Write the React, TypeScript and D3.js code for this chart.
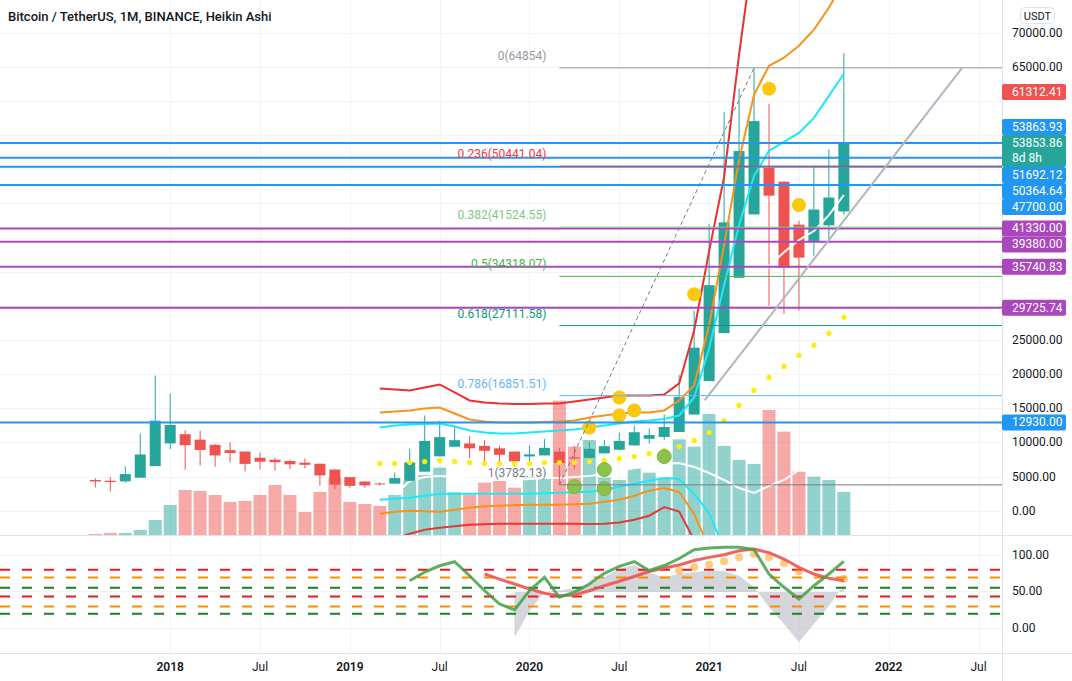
import React from "react";
import * as d3 from "d3";

// ---------------- DATA ----------------
// monthly Heikin Ashi candles, Aug 2017 .. Oct 2021 (index 0 = Aug 2017)
const firstMonth = new Date(2017, 7, 1);
const months = d3.timeMonth.range(firstMonth, new Date(2021, 10, 1));

const haOpen = [4493, 4388, 4297, 4830, 6531, 9857, 11205, 10402, 9646, 8868, 8657, 7755, 7463, 7279, 7034, 6878, 6024, 4913, 4276, 3990, 3961, 4367, 5717, 7961, 9367, 9848, 9490, 9133, 8657, 7944, 8097, 8651, 7813, 7737, 8400, 8925, 9564, 10528, 10802, 11531, 14084, 18978, 26001, 34110, 43389, 50222, 48180, 41894, 39476, 41788, 43824];
const haHigh = [4745, 4939, 6498, 11300, 19799, 17176, 11786, 11710, 9760, 10020, 8657, 8492, 7750, 7410, 7680, 6878, 6024, 4913, 4276, 4140, 5600, 9074, 13970, 13147, 12325, 10940, 10370, 9530, 8657, 9578, 10500, 9188, 9460, 10067, 10380, 11444, 12468, 12051, 14100, 19863, 29300, 41950, 58353, 61844, 64854, 59600, 48180, 42448, 50500, 52920, 66999];
const haLow = [3400, 2817, 4110, 4830, 6531, 9035, 6000, 6600, 6430, 7033, 5750, 6070, 5880, 6111, 6205, 3653, 3156, 3350, 3373, 3671, 3961, 4367, 5717, 7961, 9320, 7710, 7300, 6515, 6435, 6871, 8097, 3782, 6150, 7737, 8400, 8893, 9564, 9825, 10374, 11531, 14084, 18978, 26001, 34110, 43389, 30000, 28805, 29278, 37333, 39600, 43283];
const haClose = [4283, 4206, 5362, 8232, 13183, 12553, 9599, 8890, 8089, 8446, 6853, 7171, 7094, 6790, 6721, 5170, 3803, 3639, 3705, 3932, 4773, 7067, 10206, 10773, 10329, 9132, 8775, 8182, 7230, 8249, 9205, 6976, 7661, 9063, 9450, 10203, 11493, 11075, 12260, 16636, 23873, 33024, 42219, 52667, 57054, 46138, 35608, 37058, 44099, 45861, 53854];
// volume, thousand BTC
const volume = [15, 30, 30, 75, 225, 450, 675, 660, 600, 495, 510, 600, 750, 600, 345, 645, 855, 495, 465, 435, 600, 810, 900, 1010, 640, 600, 785, 810, 710, 860, 860, 2015, 1325, 1425, 860, 825, 1000, 935, 860, 1435, 1325, 1815, 1335, 1125, 1065, 1875, 1550, 950, 875, 825, 645];

const pad = (start: number, arr: number[]) => [...Array(start).fill(null), ...arr];

// overlay bands (price units)
const upperRed = pad(19, [17905, 17760, 17610, 18050, 18490, 17320, 16140, 15850, 15700, 15630, 15630, 15700, 15700, 16000, 16290, 16580, 16880, 16880, 16880, 17020, 18640, 26400, 38010, 48870, 66780, 82900]);
const upperOrange = pad(19, [14380, 14530, 14680, 14970, 15120, 14240, 13360, 13060, 12910, 12910, 12910, 12990, 13060, 13210, 13650, 13940, 14240, 14380, 14380, 14680, 16140, 18345, 27150, 38890, 51370, 60900, 65160, 66340, 68100, 70440, 73670, 77490]);
const upperCyan = pad(19, [12180, 12475, 12620, 12690, 12770, 12330, 11740, 11450, 11300, 11300, 11450, 11590, 11740, 11890, 12180, 12475, 12770, 13060, 13210, 13430, 13940, 16580, 23800, 33020, 41830, 49020, 52700, 54000, 55330, 57530, 60750, 63990]);
const lowerCyan = pad(19, [1614, 1760, 1910, 2200, 2495, 2495, 2495, 2495, 2495, 2495, 2495, 2570, 2640, 2715, 2790, 3080, 3520, 3960, 4400, 4790, 4640, 2445, -340, -5600]);
const lowerOrange = pad(19, [-440, -147, 0, -73, -147, 147, 440, 660, 734, 807, 880, 880, 880, 954, 1027, 1320, 1614, 2200, 2935, 3320, 2740, -480, -5450, -12000]);
const lowerRed = pad(19, [-5140, -4110, -3375, -2790, -2495, -2275, -2055, -1980, -1908, -1908, -1908, -1908, -1908, -1908, -1950, -1908, -1717, -1320, -734, 540, -117, -4290, -12000]);
const lowerWhite = pad(20, [2300, 4350, 4935, 5080, 4935, 4640, 4500, 4500, 4500, 4640, 4790, 4790, 4935, 5080, 5375, 5815, 6250, 6545, 6840, 6985, 6400, 5520, 4500, 3320, 2590, 3620, 4500, 5960]);
const upperWhite = pad(42, [23480, 28180, 33020, 35810, 37860, 39630, 40950, 43290, 46230]);
const smallDots = pad(19, [6900, 6900, 7045, 7190, 7340, 7190, 7045, 6900, 6900, 6900, 6900, 7045, 7045, 7045, 7190, 7340, 7630, 7925, 8365, 8805, 9390, 10270, 11450, 13210, 15410, 17610, 19520, 21130, 22750, 24215, 25980, 28320]);
const yellowMarks: [number, number][] = [[33, 12180], [35, 16580], [35, 13940], [36, 14680], [40, 31700], [45, 61790], [47, 44760]];
const greenMarks: [number, number][] = [[32, 3520], [34, 6020], [34, 3230], [38, 7925]];

// lower pane oscillator
const oscGreen = pad(21, [64.7, 76.7, 85.4, 91, 71.6, 50.9, 32.5, 24.2, 50.9, 69.4, 41.8, 48.7, 60.1, 74.9, 84.6, 91.2, 78.8, 85.7, 95.4, 107.6, 109.9, 110.9, 110.9, 107.8, 74, 55.6, 39.4, 57.8, 74, 91.5]);
const oscRed = pad(26, [74, 67, 60.1, 53.2, 47.3, 44, 44.9, 50.9, 57.8, 63.9, 70.5, 77.4, 82.3, 86.4, 92.6, 97, 100.6, 106.2, 108.5, 103.4, 94.7, 83.2, 74, 68, 64.7]);
const oscDots: [number, number][] = [[39, 78.5], [40, 83.2], [41, 86.8], [42, 91.5], [43, 97], [44, 101.6], [45, 97], [46, 88.8], [47, 77.7], [50, 67]];
const oscHist = pad(28, [-13.5, 22.8, 49, 50.9, 54.6, 60.1, 69.8, 80.9, 86.4, 75.3, 69.8, 74, 76.7, 78.5, 77.7, 71.6, 56, 28.3, 4.8, -20, 4.8, 29.7, 58.8]);
const oscBase = 49;
const oscLevels = [80, 69, 55, 43, 29, 19];
const oscLevelKinds = ["red", "orange", "green", "red", "orange", "green"];

// drawings
const fibRatios = ["0", "0.236", "0.382", "0.5", "0.618", "0.786", "1"];
const fibPrices = [64854, 50441.04, 41524.55, 34318.07, 27111.58, 16851.51, 3782.13];
const fibStartMonth = 31;
const fibTrend: [number, number][] = [[31, 3782.13], [44, 64854]];
const supportLine: [number, number][] = [[40.7, 16140], [57.9, 64860]];
const hLinePrices = [53863.93, 51692.12, 50364.64, 47700, 41330, 39380, 35740.83, 29725.74, 12930];
const hLineKinds = ["blue", "blue", "blue", "blue", "purple", "purple", "purple", "purple", "blue"];
const lastRealClose = 61312.41;
const lastHaClose = 53853.86;
const countdown = "8d 8h";

const priceTicks = d3.range(0, 70001, 5000);
const oscTicks = [0, 50, 100];
const timeTickLabels = ["2018", "Jul", "2019", "Jul", "2020", "Jul", "2021", "Jul", "2022", "Jul"];
const timeTickMonths = [5, 11, 17, 23, 29, 35, 41, 47, 53, 59];

// ---------------- STYLE ----------------
const W = 1072, H = 681;
const PLOT_R = 1002;
const PRICE_B = 535;
const OSC_B = 653;
const FONT = "Roboto, 'Liberation Sans', Arial, sans-serif";
const TXT = "#131722";
const GRID = "#f0f3fa";
const SEP = "#e0e3eb";
const UP = "#26a69a";
const DOWN = "#ef5350";
const COLORS: Record<string, string> = {
  blue: "#2196f3",
  purple: "#ab47bc",
  red: "#e8191e",
  orange: "#ff8a00",
  green: "#1b7f24",
};
const FIB_COLORS = ["#9598a1", "#f23645", "#81c784", "#4caf50", "#089981", "#64b5f6", "#787b86"];

// ---------------- SCALES ----------------
const x = d3.scaleLinear().domain([0, 50]).range([95.35, 843.85]);
const yP = d3.scaleLinear().domain([0, 70000]).range([510.7, 32.7]);
const yV = d3.scaleLinear().domain([0, 3000]).range([PRICE_B, PRICE_B - 200]);
const yO = d3.scaleLinear().domain([0, 100]).range([627.5, 555.2]);

const priceLine = d3
  .line<number | null>()
  .defined((d) => d != null)
  .x((_, i) => x(i))
  .y((d) => yP(d as number));
const oscLine = d3
  .line<number | null>()
  .defined((d) => d != null)
  .x((_, i) => x(i))
  .y((d) => yO(d as number));
const oscArea = d3
  .area<number | null>()
  .defined((d) => d != null)
  .x((_, i) => x(i))
  .y0(yO(oscBase))
  .y1((d) => yO(d as number));

type Lbl = { v: number; color: string; sub?: string; top?: number; h?: number };

function layoutLabels(): Lbl[] {
  const items: Lbl[] = [
    { v: lastRealClose, color: DOWN },
    { v: lastHaClose, color: UP, sub: countdown },
    ...hLinePrices.map((v, i) => ({ v, color: COLORS[hLineKinds[i]] })),
  ];
  const LH = 16;
  items.forEach((l) => (l.h = l.sub ? 32 : LH));
  const anchor = items.find((l) => l.sub)!;
  const ay = yP(anchor.v);
  anchor.top = ay - LH / 2;
  const above = items.filter((l) => l !== anchor && yP(l.v) <= ay).sort((a, b) => yP(b.v) - yP(a.v));
  let lim = anchor.top;
  for (const l of above) {
    const c = Math.min(yP(l.v), lim - LH / 2);
    l.top = c - LH / 2;
    lim = l.top;
  }
  const below = items.filter((l) => l !== anchor && yP(l.v) > ay).sort((a, b) => yP(a.v) - yP(b.v));
  lim = anchor.top + anchor.h!;
  for (const l of below) {
    const c = Math.max(yP(l.v), lim + LH / 2);
    l.top = c - LH / 2;
    lim = l.top + l.h!;
  }
  return items;
}

export default function App() {
  const labels = layoutLabels();
  const fmt = d3.format(".2f");
  const tickHidden = (v: number) => {
    const y = yP(v);
    return labels.some((l) => y >= l.top! - 4 && y <= l.top! + l.h! + 4);
  };
  const idx = months.map((_, i) => i);

  return (
    <svg
      width={W}
      height={H}
      style={{ position: "absolute", left: 0, top: 0, background: "#fff" }}
      fontFamily={FONT}
    >
      <defs>
        <clipPath id="pc">
          <rect x={0} y={0} width={PLOT_R} height={PRICE_B} />
        </clipPath>
        <clipPath id="oc">
          <rect x={0} y={PRICE_B} width={PLOT_R} height={OSC_B - PRICE_B} />
        </clipPath>
      </defs>
      <rect width={W} height={H} fill="#fff" />

      {/* grid */}
      <g stroke={GRID} strokeWidth={1}>
        {priceTicks.map((t) => (
          <line key={"gp" + t} x1={0} x2={PLOT_R} y1={Math.round(yP(t)) + 0.5} y2={Math.round(yP(t)) + 0.5} />
        ))}
        {oscTicks.map((t) => (
          <line key={"go" + t} x1={0} x2={PLOT_R} y1={Math.round(yO(t)) + 0.5} y2={Math.round(yO(t)) + 0.5} />
        ))}
        {timeTickMonths.map((m) => (
          <line key={"gt" + m} x1={Math.round(x(m)) + 0.5} x2={Math.round(x(m)) + 0.5} y1={0} y2={OSC_B} />
        ))}
      </g>

      {/* price pane */}
      <g clipPath="url(#pc)">
        {/* volume */}
        {idx.map((i) => (
          <rect
            key={"v" + i}
            x={x(i) - 6.5}
            width={13}
            y={yV(volume[i])}
            height={yV(0) - yV(volume[i])}
            fill={haClose[i] >= haOpen[i] ? UP : DOWN}
            opacity={0.5}
          />
        ))}
        {/* lower bands */}
        <path d={priceLine(lowerWhite)!} fill="none" stroke="#fff" strokeWidth={2} />
        <path d={priceLine(lowerCyan)!} fill="none" stroke="#1de9f6" strokeWidth={2} />
        <path d={priceLine(lowerOrange)!} fill="none" stroke="#f7931a" strokeWidth={2} />
        <path d={priceLine(lowerRed)!} fill="none" stroke="#e53935" strokeWidth={2} />

        {/* candles */}
        {idx.map((i) => {
          const up = haClose[i] >= haOpen[i];
          const c = up ? UP : DOWN;
          const top = yP(Math.max(haOpen[i], haClose[i]));
          const bot = yP(Math.min(haOpen[i], haClose[i]));
          return (
            <g key={"c" + i}>
              <line x1={x(i)} x2={x(i)} y1={yP(haHigh[i])} y2={yP(haLow[i])} stroke={c} strokeWidth={1} />
              <rect x={x(i) - 5.5} width={11} y={top} height={Math.max(1, bot - top)} fill={c} />
            </g>
          );
        })}

        {/* upper bands */}
        <path d={priceLine(upperRed)!} fill="none" stroke="#ef2f2f" strokeWidth={2} />
        <path d={priceLine(upperOrange)!} fill="none" stroke="#f7931a" strokeWidth={2} />
        <path d={priceLine(upperCyan)!} fill="none" stroke="#1de9f6" strokeWidth={2} />
        <path d={priceLine(upperWhite)!} fill="none" stroke="#fff" strokeWidth={2} />

        {/* dots */}
        {smallDots.map((v, i) =>
          v == null ? null : <circle key={"sd" + i} cx={x(i)} cy={yP(v)} r={2.6} fill="#ffee00" />
        )}
        {yellowMarks.map(([m, p], k) => (
          <circle key={"ym" + k} cx={x(m)} cy={yP(p)} r={7} fill="#fcc80d" />
        ))}
        {greenMarks.map(([m, p], k) => (
          <circle key={"gm" + k} cx={x(m)} cy={yP(p)} r={7} fill="#8bc34a" stroke="#7cb342" strokeWidth={1} />
        ))}

        {/* horizontal drawn lines */}
        {hLinePrices.map((p, k) => (
          <line key={"hl" + k} x1={0} x2={PLOT_R} y1={yP(p)} y2={yP(p)} stroke={COLORS[hLineKinds[k]]} strokeWidth={2} />
        ))}

        {/* fib retracement */}
        {fibPrices.map((p, k) => (
          <g key={"fb" + k}>
            <line x1={x(fibStartMonth)} x2={PLOT_R} y1={yP(p)} y2={yP(p)} stroke={FIB_COLORS[k]} strokeWidth={1} />
            <text
              x={x(fibStartMonth) - 13}
              y={yP(p) - 8}
              textAnchor="end"
              fontSize={12}
              fill={FIB_COLORS[k]}
            >
              {fibRatios[k]}({p})
            </text>
          </g>
        ))}
        <line
          x1={x(fibTrend[0][0])}
          y1={yP(fibTrend[0][1])}
          x2={x(fibTrend[1][0])}
          y2={yP(fibTrend[1][1])}
          stroke="#787b86"
          strokeWidth={1}
          strokeDasharray="4 3"
        />
        <line
          x1={x(supportLine[0][0])}
          y1={yP(supportLine[0][1])}
          x2={x(supportLine[1][0])}
          y2={yP(supportLine[1][1])}
          stroke="#b2b5be"
          strokeWidth={2}
        />
      </g>

      {/* oscillator pane */}
      <g clipPath="url(#oc)">
        <path d={oscArea(oscHist)!} fill="#b2b5be" opacity={0.55} />
        {oscLevels.map((lv, k) => (
          <line
            key={"ol" + k}
            x1={0}
            x2={PLOT_R}
            y1={yO(lv)}
            y2={yO(lv)}
            stroke={COLORS[oscLevelKinds[k]]}
            strokeWidth={2}
            strokeDasharray="10 12"
          />
        ))}
        {oscDots.map(([m, v], k) => (
          <circle key={"od" + k} cx={x(m)} cy={yO(v)} r={4} fill="#ff9800" opacity={0.5} />
        ))}
        <path d={oscLine(oscRed)!} fill="none" stroke="#ef5350" strokeOpacity={0.9} strokeWidth={3} />
        <path d={oscLine(oscGreen)!} fill="none" stroke="#43a047" strokeOpacity={0.85} strokeWidth={3} />
      </g>

      {/* separators */}
      <line x1={0} x2={W} y1={PRICE_B + 0.5} y2={PRICE_B + 0.5} stroke={SEP} />
      <line x1={0} x2={W} y1={OSC_B + 0.5} y2={OSC_B + 0.5} stroke={SEP} />
      <line x1={PLOT_R + 0.5} x2={PLOT_R + 0.5} y1={0} y2={H} stroke={SEP} />

      {/* price axis */}
      <g fontSize={12} fill={TXT}>
        {priceTicks
          .filter((t) => !tickHidden(t))
          .map((t) => (
            <text key={"pt" + t} x={1012} y={yP(t)} dominantBaseline="central">
              {fmt(t)}
            </text>
          ))}
        {oscTicks.map((t) => (
          <text key={"ot" + t} x={1012} y={yO(t)} dominantBaseline="central">
            {fmt(t)}
          </text>
        ))}
      </g>

      {/* price labels */}
      {labels.map((l, k) => (
        <g key={"lb" + k}>
          <rect x={PLOT_R} y={l.top} width={64} height={l.h} fill={l.color} rx={2} />
          <text x={1012} y={l.top! + 8} dominantBaseline="central" fontSize={12} fill="#fff">
            {fmt(l.v)}
          </text>
          {l.sub && (
            <text x={1012} y={l.top! + 23} dominantBaseline="central" fontSize={12} fill="#fff">
              {l.sub}
            </text>
          )}
        </g>
      ))}

      {/* USDT button */}
      <rect x={1020.5} y={7.5} width={34} height={16} rx={4} fill="#fff" stroke={SEP} />
      <text x={1037.5} y={16} textAnchor="middle" dominantBaseline="central" fontSize={11} fill={TXT}>
        USDT
      </text>

      {/* time axis */}
      <g fontSize={12} fill={TXT}>
        {timeTickLabels.map((t, k) => (
          <text
            key={"tt" + k}
            x={x(timeTickMonths[k])}
            y={667}
            textAnchor="middle"
            dominantBaseline="central"
            fontWeight={t === "Jul" ? 400 : 600}
          >
            {t}
          </text>
        ))}
      </g>

      {/* title */}
      <text x={8} y={20.5} fontSize={13} fill={TXT} fontWeight={500}>
        Bitcoin / TetherUS, 1M, BINANCE, Heikin Ashi
      </text>
    </svg>
  );
}
